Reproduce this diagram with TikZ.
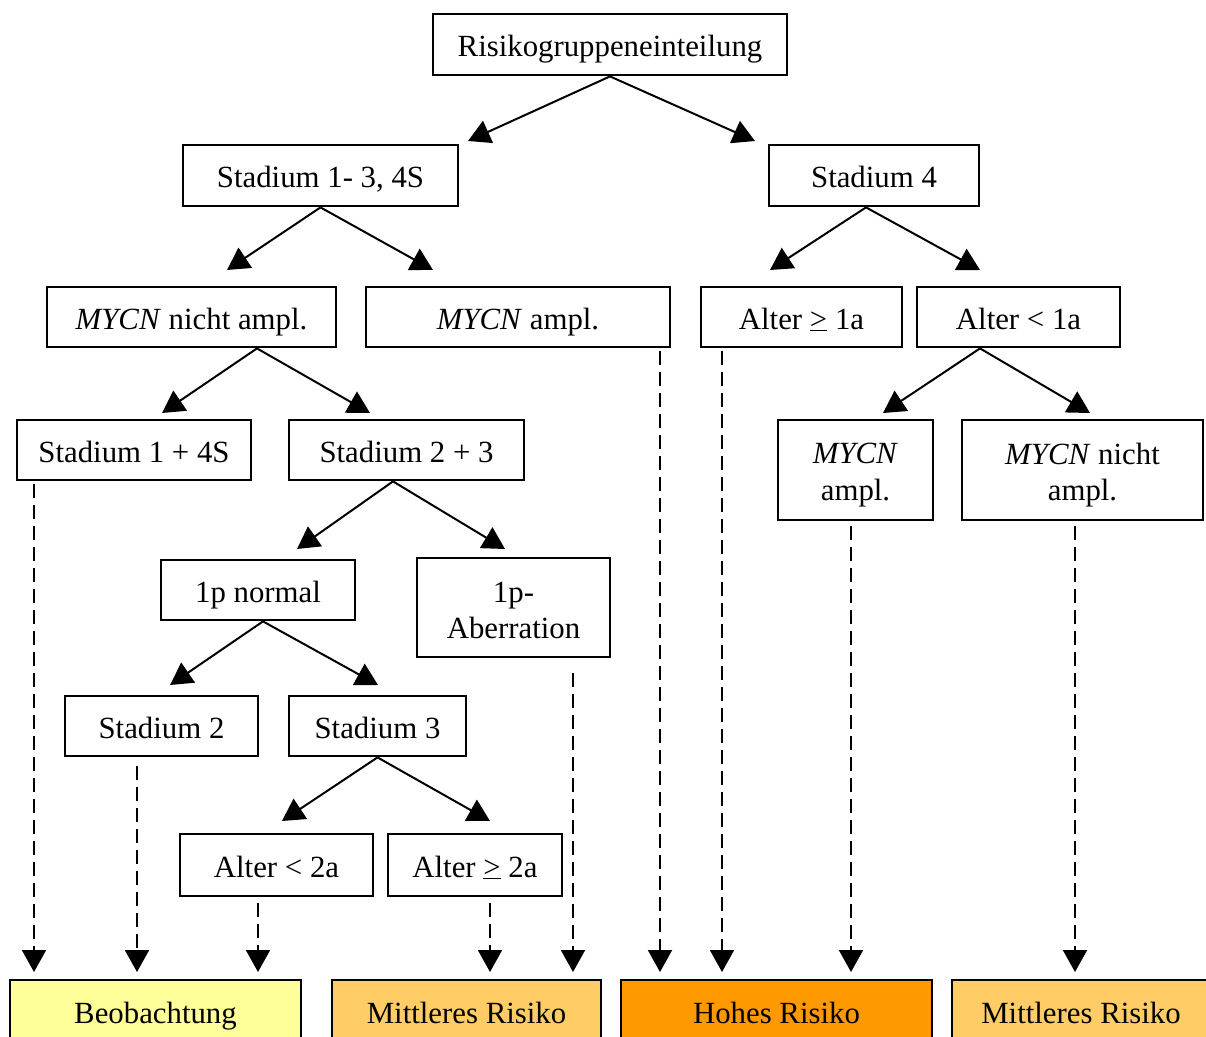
\documentclass[tikz,border=0pt]{standalone}
\usepackage{fontspec}
\setmainfont{Liberation Serif}
\usetikzlibrary{arrows.meta}
\definecolor{beobc}{HTML}{FFFF99}
\definecolor{mittelc}{HTML}{FFCC66}
\definecolor{hochc}{HTML}{FF9900}
\begin{document}
\begin{tikzpicture}[x=1pt,y=-1pt,
  every node/.style={font=\fontsize{30.8}{36.5}\selectfont},
  box/.style={draw,line width=2.8pt,rectangle,inner sep=0pt,text height=24pt,text depth=0pt},
  ebox/.style={draw,line width=2.8pt,rectangle,inner sep=0pt},
  mtext/.style={inner sep=0pt,align=center},
  res/.style={draw,line width=2.8pt,rectangle,inner sep=0pt,minimum height=66pt,text height=21pt,text depth=0pt},
  arr/.style={line width=2pt,-{Triangle[length=22pt,width=24pt]}},
  darr/.style={line width=2pt,dash pattern=on 14pt off 7pt,-{Triangle[length=22pt,width=24pt]}}
]
\useasboundingbox (0,0) rectangle (1206,1036);
% boxes
\node[box,minimum width=354pt,minimum height=61pt] (top) at (610,44.5) {Risikogruppeneinteilung};
\node[box,minimum width=275pt,minimum height=61pt] (s13) at (320.5,175.5) {Stadium 1- 3, 4S};
\node[box,minimum width=210pt,minimum height=61pt] (s4) at (874,175.5) {Stadium 4};
\node[box,minimum width=289pt,minimum height=60pt] (mycnn) at (191.5,317) {\textit{MYCN} nicht ampl.};
\node[box,minimum width=304pt,minimum height=60pt] (mycna) at (518,317) {\textit{MYCN} ampl.};
\node[box,minimum width=201pt,minimum height=60pt] (aige) at (801.5,317) {Alter \underline{>} 1a};
\node[box,minimum width=203pt,minimum height=60pt] (ailt) at (1018.5,317) {Alter < 1a};
\node[box,minimum width=234pt,minimum height=60pt] (s14s) at (134,450) {Stadium 1 + 4S};
\node[box,minimum width=235pt,minimum height=60pt] (s23) at (406.5,450) {Stadium 2 + 3};
\node[ebox,minimum width=155pt,minimum height=100pt] (mycnaii) at (855.5,470) {};
\node[mtext] (mycnaiitext) at ([yshift=-5pt]mycnaii.center) {\textit{MYCN}\\ampl.};
\node[ebox,minimum width=241pt,minimum height=100pt] (mycnnii) at (1082.5,470) {};
\node[mtext] (mycnniitext) at ([yshift=-5pt]mycnnii.center) {\textit{MYCN} nicht\\ampl.};
\node[box,minimum width=194pt,minimum height=60pt] (pn) at (258,590) {1p normal};
\node[ebox,minimum width=193pt,minimum height=99pt] (pa) at (513.5,607.5) {};
\node[mtext] (patext) at ([yshift=-3pt]pa.center) {1p-\\Aberration};
\node[box,minimum width=193pt,minimum height=60pt] (sii) at (161.5,726) {Stadium 2};
\node[box,minimum width=177pt,minimum height=60pt] (siii) at (377.5,726) {Stadium 3};
\node[box,minimum width=193pt,minimum height=62pt] (aiilt) at (276.5,865) {Alter < 2a};
\node[box,minimum width=174pt,minimum height=62pt] (aiige) at (475,865) {Alter \underline{>} 2a};
% result boxes
\node[res,fill=beobc,minimum width=291pt] (beob) at (155.5,1013) {Beobachtung};
\node[res,fill=mittelc,minimum width=269pt] (mri) at (466.5,1013) {Mittleres Risiko};
\node[res,fill=hochc,minimum width=311pt] (hr) at (776.5,1013) {Hohes Risiko};
\node[res,fill=mittelc,minimum width=258pt] (mrii) at (1081,1013) {Mittleres Risiko};
% arrow tip coordinates
\coordinate (tia) at (468,141);
\coordinate (tib) at (755,141);
\coordinate (tiia) at (227,270);
\coordinate (tiib) at (433,270);
\coordinate (tiiia) at (770,270);
\coordinate (tiiib) at (980,270);
\coordinate (tiva) at (162,413);
\coordinate (tivb) at (370,413);
\coordinate (tva) at (883,413);
\coordinate (tvb) at (1090,413);
\coordinate (tvia) at (297,549);
\coordinate (tvib) at (505,549);
\coordinate (tviia) at (170,685);
\coordinate (tviib) at (378,685);
\coordinate (tviiia) at (282,821);
\coordinate (tviiib) at (490,821);
% solid arrows
\draw[arr] (top.south) -- (tia);
\draw[arr] (top.south) -- (tib);
\draw[arr] (s13.south) -- (tiia);
\draw[arr] (s13.south) -- (tiib);
\draw[arr] ([xshift=-8pt]s4.south) -- (tiiia);
\draw[arr] ([xshift=-8pt]s4.south) -- (tiiib);
\draw[arr] ([xshift=65.5pt]mycnn.south) -- (tiva);
\draw[arr] ([xshift=65.5pt]mycnn.south) -- (tivb);
\draw[arr] ([xshift=-38.5pt]ailt.south) -- (tva);
\draw[arr] ([xshift=-38.5pt]ailt.south) -- (tvb);
\draw[arr] ([xshift=-13.5pt]s23.south) -- (tvia);
\draw[arr] ([xshift=-13.5pt]s23.south) -- (tvib);
\draw[arr] ([xshift=5pt]pn.south) -- (tviia);
\draw[arr] ([xshift=5pt]pn.south) -- (tviib);
\draw[arr] (siii.south) -- (tviiia);
\draw[arr] (siii.south) -- (tviiib);
% dashed arrows
\coordinate (ei) at (34,972);
\coordinate (eii) at (137,972);
\coordinate (eiii) at (258,972);
\coordinate (eiv) at (490,972);
\coordinate (ev) at (573,972);
\coordinate (evi) at (660,972);
\coordinate (evii) at (722,972);
\coordinate (eviii) at (851,972);
\coordinate (eix) at (1075,972);
\draw[darr] ([xshift=-100pt,yshift=-3pt]s14s.south) -- (ei);
\draw[darr] ([xshift=-24.5pt,yshift=-9pt]sii.south) -- (eii);
\draw[darr] ([xshift=-18.5pt,yshift=-6pt]aiilt.south) -- (eiii);
\draw[darr] ([xshift=15pt,yshift=-6pt]aiige.south) -- (eiv);
\draw[darr] ([xshift=59.5pt,yshift=-15pt]pa.south) -- (ev);
\draw[darr] ([xshift=142pt,yshift=-3pt]mycna.south) -- (evi);
\draw[darr] ([xshift=-79.5pt,yshift=-3pt]aige.south) -- (evii);
\draw[darr] ([xshift=-4.5pt,yshift=-5pt]mycnaii.south) -- (eviii);
\draw[darr] ([xshift=-7.5pt,yshift=-5pt]mycnnii.south) -- (eix);
\end{tikzpicture}
\end{document}
